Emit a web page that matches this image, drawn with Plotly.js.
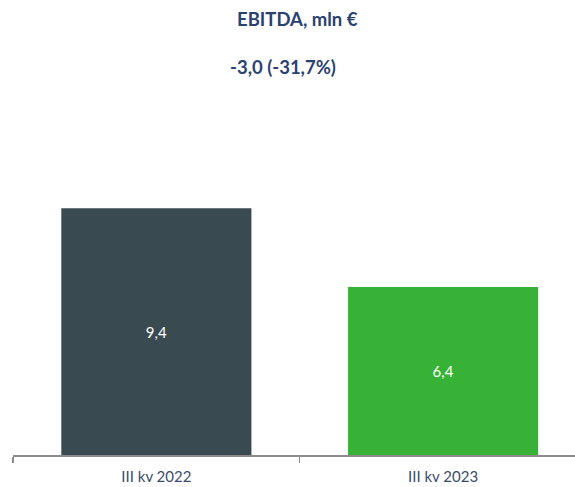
<!DOCTYPE html>
<html><head><meta charset="utf-8">
<script src="https://cdn.plot.ly/plotly-3.0.1.min.js"></script>
<style>html,body{margin:0;padding:0;background:#fff}#chart{width:575px;height:487px}</style>
</head><body><div id="chart"></div>
<script>
const categories = ["III kv 2022", "III kv 2023"];
const values = [9.4, 6.4];
const valueLabels = ["9,4", "6,4"];
const barColors = ["#3A4A51", "#37B236"];
const titleText = "EBITDA, mln €";
const subtitleText = "-3,0 (-31,7%)";

const trace = {
  type: "bar",
  x: categories,
  y: values,
  text: valueLabels,
  textposition: "inside",
  insidetextanchor: "middle",
  textfont: {family: "Lato, 'Noto Sans', sans-serif", size: 15, color: "#ffffff"},
  marker: {color: barColors},
  hoverinfo: "none",
  cliponaxis: false
};
const navy = "#2B4170";
const layout = {
  width: 575, height: 487,
  margin: {l: 13, r: 0, t: 140, b: 32},
  paper_bgcolor: "#fff", plot_bgcolor: "#fff",
  bargap: 0.337,
  showlegend: false,
  xaxis: {
    type: "category",
    range: [-0.5, 1.46],
    showline: true, linecolor: "#8C8C8C", linewidth: 1.5,
    ticks: "outside", tickson: "boundaries", ticklen: 6, tickcolor: "#8C8C8C", tickwidth: 1.5,
    ticklabelstandoff: 7,
    tickfont: {family: "Lato, 'Noto Sans', sans-serif", size: 15, color: "#3B4C6B"},
    showgrid: false, zeroline: false, fixedrange: true
  },
  yaxis: {
    range: [0, 12], visible: false, showgrid: false, zeroline: false, fixedrange: true
  },
  annotations: [
    {text: "<b>" + titleText + "</b>", xref: "paper", yref: "paper", x: 0.506, y: 1, yshift: 121,
     xanchor: "center", yanchor: "middle", showarrow: false,
     font: {family: "Lato, 'Noto Sans', sans-serif", size: 18.5, color: navy}},
    {text: "<b>" + subtitleText + "</b>", xref: "paper", yref: "paper", x: 0.48, y: 1, yshift: 73,
     xanchor: "center", yanchor: "middle", showarrow: false,
     font: {family: "Lato, 'Noto Sans', sans-serif", size: 18.5, color: navy}}
  ]
};
Plotly.newPlot("chart", [trace], layout, {displayModeBar: false, staticPlot: true});
</script></body></html>
